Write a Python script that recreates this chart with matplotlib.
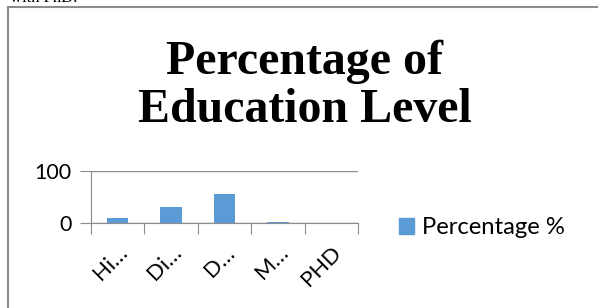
import matplotlib.pyplot as plt
from matplotlib.patches import Rectangle, Patch
import numpy as np

categories = ['Hi…', 'Di…', 'D…', 'M…', 'PHD']
percentage = [10, 31, 56, 2, 0]
series_name = 'Percentage %'
title = 'Percentage of\nEducation Level'

W, H = 598, 308
fig = plt.figure(figsize=(W / 100, H / 100), dpi=100)

# tail of the document text above the chart, cut off by the crop
fig.text(10 / W, 1 - 1.5 / H, 'with PhD.', fontsize=12, family='Liberation Serif',
         va='baseline', ha='left')

# chart border (runs off the right and bottom edges)
fig.patches.append(Rectangle((8 / W, -0.1), 1.2, 1 - 7 / H + 0.1, transform=fig.transFigure,
                             fill=False, edgecolor='#8c8c8c', linewidth=1.5))

fig.text(305 / W, 1 - 86 / H, title, ha='center', va='center', fontsize=34.5,
         fontweight='bold', family='Liberation Serif', linespacing=1.12)

ax = fig.add_axes([91 / W, 1 - 223 / H, (358 - 91) / W, (223 - 171) / H])
x = np.arange(len(categories))
ax.bar(x, percentage, width=0.4, color='#5b9bd5', label=series_name, zorder=3)

ax.set_xlim(-0.5, len(categories) - 0.5)
ax.set_ylim(0, 100)
ax.set_yticks([0, 100])
ax.yaxis.grid(True, color='#8c8c8c', linewidth=1)
for s in ['top', 'right']:
    ax.spines[s].set_visible(False)
for s in ['left', 'bottom']:
    ax.spines[s].set_color('#8c8c8c')
ax.tick_params(axis='y', length=8, color='#8c8c8c', labelsize=15.5, pad=6)
for lab in ax.get_yticklabels():
    lab.set_family('Lato')

ax.set_xticks(np.arange(len(categories) + 1) - 0.5)
ax.set_xticklabels([])
ax.tick_params(axis='x', which='major', length=8, color='#8c8c8c')
ax.set_xticks(x, minor=True)
ax.set_xticklabels(categories, minor=True, rotation=45, ha='right', va='top',
                   rotation_mode='anchor', fontsize=16, family='Lato')
ax.tick_params(axis='x', which='minor', length=0, pad=14)

fig.legend(handles=[Patch(color='#5b9bd5', label=series_name)],
           loc='center left', bbox_to_anchor=(387 / W, 1 - 228 / H), frameon=False,
           prop={'family': 'Lato', 'size': 17.2}, handlelength=0.65, handleheight=0.65,
           handletextpad=0.3, borderpad=0)

fig.savefig('out.png', dpi=100)
